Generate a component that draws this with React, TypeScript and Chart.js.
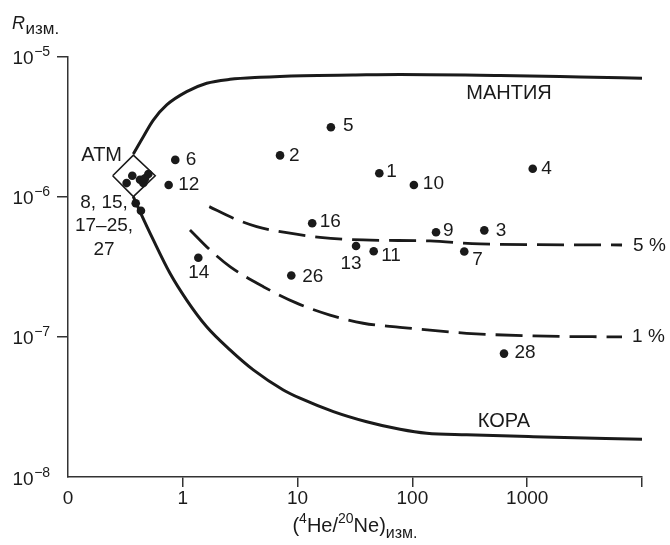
import React, { useEffect, useRef } from 'react';
import { Chart, registerables } from 'chart.js';

Chart.register(...registerables);

// Axis ticks
const xTickValues = [0.1, 1, 10, 100, 1000, 10000];
const xTickLabels = ['0', '1', '10', '100', '1000', ''];
const yTickValues = [1e-8, 1e-7, 1e-6, 1e-5];
const yTickExponents = ['−8', '−7', '−6', '−5'];

// Numbered samples
const pointIds = ['1', '2', '3', '4', '5', '6', '7', '9', '10', '11', '12', '13', '14', '16', '26', '28'];
const pointX = [51.5, 7.03, 423, 1117, 19.5, 0.86, 283, 160.6, 103, 46, 0.753, 32.3, 1.365, 13.4, 8.81, 628];
const pointY = [1.47e-6, 1.97e-6, 5.75e-7, 1.58e-6, 3.13e-6, 1.83e-6, 4.06e-7, 5.57e-7, 1.21e-6, 4.08e-7, 1.21e-6, 4.45e-7, 3.67e-7, 6.46e-7, 2.74e-7, 7.59e-8];

// Atmospheric group (8, 15, 17–25, 27)
const atmX = [0.363, 0.324, 0.424, 0.453, 0.501, 0.469, 0.389, 0.432];
const atmY = [1.41e-6, 1.25e-6, 1.32e-6, 1.25e-6, 1.45e-6, 1.35e-6, 8.97e-7, 7.94e-7];

// ATM box (diamond)
const boxX = [0.245, 0.371, 0.575, 0.371, 0.245];
const boxY = [1.41e-6, 1.98e-6, 1.41e-6, 1.0e-6, 1.41e-6];

// Mantle mixing curve
const mantleX = [0.3705, 0.4529, 0.5534, 0.724, 1.081, 1.615, 2.577, 4.705, 11.14, 30.4, 78, 580, 2884, 10000];
const mantleY = [2.017e-6, 2.68e-6, 3.52e-6, 4.51e-6, 5.61e-6, 6.44e-6, 6.87e-6, 7.11e-6, 7.3e-6, 7.38e-6, 7.44e-6, 7.32e-6, 7.14e-6, 6.99e-6];

// Crust mixing curve
const crustX = [0.3705, 0.4238, 0.5534, 0.7734, 1.081, 1.615, 2.577, 4.113, 7.506, 10.49, 20.5, 40, 78, 133.3, 297, 1130, 10000];
const crustY = [1.0e-6, 7.82e-7, 4.91e-7, 2.84e-7, 1.83e-7, 1.18e-7, 8.07e-8, 5.81e-8, 4.18e-8, 3.65e-8, 2.93e-8, 2.48e-8, 2.19e-8, 2.05e-8, 2.0e-8, 1.94e-8, 1.86e-8];

// 5 % mantle line
const p5X = [1.7, 2.754, 4.402, 8.04, 15.67, 37.3, 142, 388, 6700];
const p5Y = [8.49e-7, 7.02e-7, 6.11e-7, 5.53e-7, 5.13e-7, 4.91e-7, 4.83e-7, 4.6e-7, 4.52e-7];

// 1 % mantle line
const p1X = [1.155, 1.725, 2.577, 5.026, 9.82, 19.15, 37.3, 78, 297, 1130, 6700];
const p1Y = [5.79e-7, 4.17e-7, 3.17e-7, 2.28e-7, 1.74e-7, 1.43e-7, 1.25e-7, 1.17e-7, 1.06e-7, 1.015e-7, 9.98e-8];

// label placement (pixel offsets from the dot; style only)
const labelOffsets: Record<string, [number, number, CanvasTextAlign]> = {
  '1': [7, -1.5, 'left'],
  '2': [9, 0.5, 'left'],
  '3': [11.5, 0, 'left'],
  '4': [8.5, -0.5, 'left'],
  '5': [12, -1, 'left'],
  '6': [10.5, 0, 'left'],
  '7': [8, 8, 'left'],
  '9': [7, -2, 'left'],
  '10': [9, -1, 'left'],
  '11': [7.5, 4.5, 'left'],
  '12': [9.5, 0, 'left'],
  '13': [-5, 17.5, 'center'],
  '14': [0.5, 15.5, 'center'],
  '16': [7.5, -1.5, 'left'],
  '26': [11, 1, 'left'],
  '28': [10.5, -0.5, 'left'],
};

const zip = (xs: number[], ys: number[]) => xs.map((x, i) => ({ x, y: ys[i] }));

const FONT = '"Liberation Sans", Arial, sans-serif';
const INK = '#1a1a1a';
const AXIS = '#333333';

const labelsPlugin = {
  id: 'labels',
  afterDraw(chart: any) {
    const ctx: CanvasRenderingContext2D = chart.ctx;
    const xs = chart.scales.x;
    const ys = chart.scales.y;
    const area = chart.chartArea;
    ctx.save();
    ctx.fillStyle = INK;

    // y tick labels 10^n
    yTickValues.forEach((v, i) => {
      const py = ys.getPixelForValue(v);
      ctx.font = `19px ${FONT}`;
      ctx.textAlign = 'left';
      ctx.textBaseline = 'alphabetic';
      ctx.fillText('10', 12.5, py + 7.5);
      const w = ctx.measureText('10').width;
      ctx.font = `14px ${FONT}`;
      ctx.fillText(yTickExponents[i], 12.5 + w + 0.5, py - 0.5);
    });

    // x tick labels
    ctx.font = `19px ${FONT}`;
    ctx.textAlign = 'center';
    ctx.textBaseline = 'middle';
    xTickValues.forEach((v, i) => {
      if (!xTickLabels[i]) return;
      ctx.fillText(xTickLabels[i], xs.getPixelForValue(v), area.bottom + 22);
    });

    // y title R_изм.
    ctx.textAlign = 'left';
    ctx.textBaseline = 'alphabetic';
    ctx.font = `italic 18px ${FONT}`;
    ctx.fillText('R', 12, 28.5);
    const rw = ctx.measureText('R').width;
    ctx.font = `17px ${FONT}`;
    ctx.fillText('изм.', 12 + rw + 0.5, 33.5);

    // x title (4He/20Ne)изм.
    const parts: [string, number, number][] = [
      ['(', 20, 0],
      ['4', 14, -9],
      ['He/', 20, 0],
      ['20', 14, -9],
      ['Ne)', 20, 0],
      ['изм.', 16, 6],
    ];
    let total = 0;
    parts.forEach(([t, s]) => {
      ctx.font = `${s}px ${FONT}`;
      total += ctx.measureText(t).width;
    });
    let cx = (area.left + area.right) / 2 - total / 2;
    const base = 532;
    parts.forEach(([t, s, dy]) => {
      ctx.font = `${s}px ${FONT}`;
      ctx.fillText(t, cx, base + dy);
      cx += ctx.measureText(t).width;
    });

    // numbered sample labels
    ctx.font = `19px ${FONT}`;
    ctx.textBaseline = 'middle';
    pointIds.forEach((id, i) => {
      const px = xs.getPixelForValue(pointX[i]);
      const py = ys.getPixelForValue(pointY[i]);
      const [dx, dy, al] = labelOffsets[id];
      ctx.textAlign = al;
      ctx.fillText(id, px + dx, py + dy);
    });

    // ATM group labels
    ctx.textAlign = 'center';
    ctx.textBaseline = 'alphabetic';
    const gx = xs.getPixelForValue(0.206);
    const gy = ys.getPixelForValue(8.31e-7);
    ['8, 15,', '17–25,', '27'].forEach((t, i) => ctx.fillText(t, gx, gy + i * 23.5));

    ctx.font = `20px ${FONT}`;
    ctx.textAlign = 'right';
    ctx.fillText('АТМ', xs.getPixelForValue(0.2954), ys.getPixelForValue(1.8e-6));

    // curve labels
    ctx.textAlign = 'center';
    ctx.fillText('МАНТИЯ', xs.getPixelForValue(694), ys.getPixelForValue(4.98e-6));
    ctx.fillText('КОРА', xs.getPixelForValue(628), ys.getPixelForValue(2.28e-8));

    ctx.font = `19px ${FONT}`;
    ctx.textAlign = 'left';
    ctx.textBaseline = 'middle';
    const e5 = p5X.length - 1;
    ctx.fillText('5 %', xs.getPixelForValue(p5X[e5]) + 11, ys.getPixelForValue(p5Y[e5]) + 0.5);
    const e1 = p1X.length - 1;
    ctx.fillText('1 %', xs.getPixelForValue(p1X[e1]) + 10, ys.getPixelForValue(p1Y[e1]) - 0.5);

    ctx.restore();
  },
};

export default function App() {
  const ref = useRef<HTMLCanvasElement | null>(null);

  useEffect(() => {
    if (!ref.current) return;
    const curve = (xs: number[], ys: number[], width: number, dash: number[]) => ({
      type: 'scatter' as const,
      data: zip(xs, ys),
      showLine: true,
      borderColor: INK,
      borderWidth: width,
      borderDash: dash,
      pointRadius: 0,
      pointHoverRadius: 0,
      cubicInterpolationMode: 'monotone' as const,
      fill: false,
    });
    const chart = new Chart(ref.current, {
      type: 'scatter',
      data: {
        datasets: [
          curve(mantleX, mantleY, 3, []),
          curve(crustX, crustY, 3, []),
          curve(p5X, p5Y, 2.8, [27, 10]),
          curve(p1X, p1Y, 2.8, [27, 10]),
          {
            type: 'scatter',
            data: zip(boxX, boxY),
            showLine: true,
            borderColor: INK,
            borderWidth: 1.6,
            pointRadius: 0,
            tension: 0,
          } as any,
          {
            type: 'scatter',
            data: zip(atmX, atmY),
            pointRadius: 4.3,
            backgroundColor: INK,
            borderWidth: 0,
          },
          {
            type: 'scatter',
            data: zip(pointX, pointY),
            pointRadius: 4.3,
            backgroundColor: INK,
            borderWidth: 0,
          },
        ] as any,
      },
      options: {
        animation: false,
        responsive: false,
        devicePixelRatio: 1,
        layout: { padding: { left: 0, top: 56.5, right: 28, bottom: 0 } },
        plugins: { legend: { display: false }, tooltip: { enabled: false } },
        events: [],
        scales: {
          x: {
            type: 'logarithmic',
            min: 0.1,
            max: 10000,
            afterBuildTicks: (s: any) => {
              s.ticks = xTickValues.map((v) => ({ value: v }));
            },
            afterFit: (s: any) => {
              s.height = 68;
            },
            ticks: { display: false },
            grid: {
              drawOnChartArea: false,
              drawTicks: true,
              tickLength: 10,
              lineWidth: 1.5,
              color: (c: any) => (c.tick && c.tick.value === 0.1 ? 'rgba(0,0,0,0)' : AXIS),
            },
            border: { display: true, color: AXIS, width: 1.5 },
          },
          y: {
            type: 'logarithmic',
            min: 1e-8,
            max: 1e-5,
            afterBuildTicks: (s: any) => {
              s.ticks = yTickValues.map((v) => ({ value: v }));
            },
            afterFit: (s: any) => {
              s.width = 68;
            },
            ticks: { display: false },
            grid: {
              drawOnChartArea: false,
              drawTicks: true,
              tickLength: 11,
              lineWidth: 1.5,
              color: (c: any) => (c.tick && c.tick.value === 1e-8 ? 'rgba(0,0,0,0)' : AXIS),
            },
            border: { display: true, color: AXIS, width: 1.5 },
          },
        },
      } as any,
      plugins: [labelsPlugin],
    });
    return () => chart.destroy();
  }, []);

  return (
    <div style={{ position: 'fixed', left: 0, top: 0, width: 670, height: 545, background: '#fff' }}>
      <canvas ref={ref} width={670} height={545} style={{ display: 'block', width: 670, height: 545 }} />
    </div>
  );
}
